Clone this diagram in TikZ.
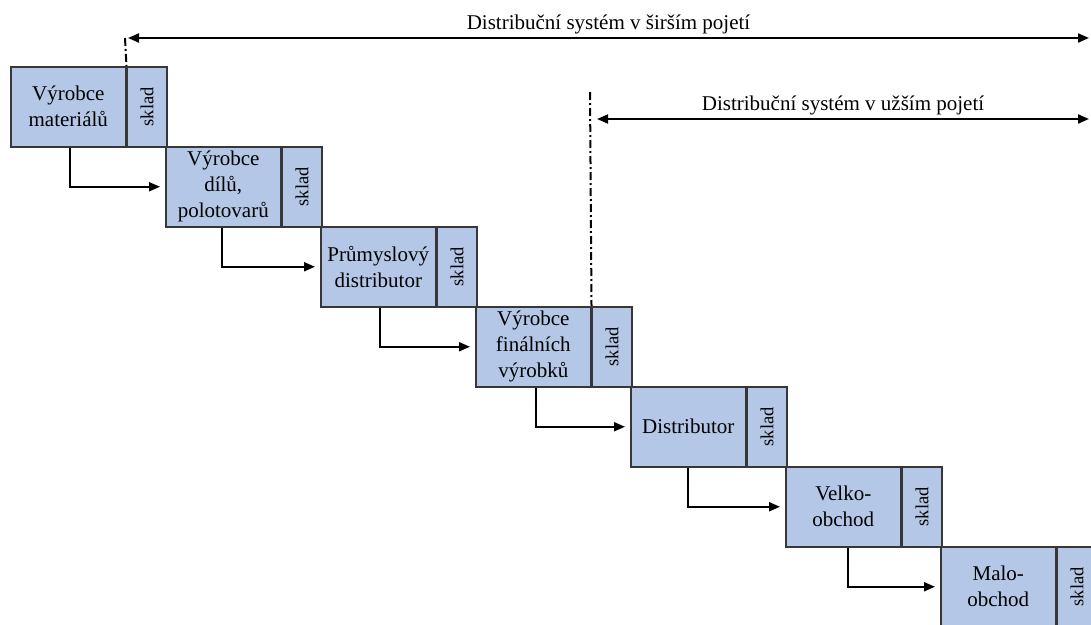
\documentclass[tikz,border=0pt]{standalone}
\usepackage{fontspec}
\setmainfont{Liberation Serif}
\usetikzlibrary{arrows.meta}
\definecolor{boxfill}{RGB}{180,199,231}
\definecolor{boxline}{RGB}{55,55,55}
\begin{document}
\begin{tikzpicture}[x=1pt,y=-1pt,
  mainbox/.style={draw=boxline, fill=boxfill, line width=1.5pt, minimum width=115pt, minimum height=80pt,
    inner sep=0pt, align=center, anchor=north west, font=\fontsize{21}{26}\selectfont},
  skladbox/.style={draw=boxline, fill=boxfill, line width=1.5pt, minimum width=39.5pt, minimum height=80pt,
    inner sep=0pt, anchor=north west, font=\fontsize{18.5}{20}\selectfont},
  flow/.style={line width=2pt, -{Triangle[length=11pt,width=9pt]}, shorten >=5pt},
  span/.style={line width=2pt, {Triangle[length=11pt,width=9pt]}-{Triangle[length=11pt,width=9pt]}},
  dd/.style={line width=2pt, dash pattern=on 8pt off 3pt on 2pt off 3pt},
  lbl/.style={font=\fontsize{21}{24}\selectfont, inner sep=3pt}
]
\useasboundingbox (0,0) rectangle (1091,624);
\clip (0,0) rectangle (1091,624);
\fill[white] (0,0) rectangle (1091,624);

\node[mainbox] (m1) at (10,66) {Výrobce\\materiálů};
\node[skladbox] (s1) at (m1.north east) {\rotatebox{90}{sklad}};
\node[mainbox] (m2) at (165,146) {Výrobce\\dílů,\\polotovarů};
\node[skladbox] (s2) at (m2.north east) {\rotatebox{90}{sklad}};
\node[mainbox] (m3) at (320,226) {Průmyslový\\distributor};
\node[skladbox] (s3) at (m3.north east) {\rotatebox{90}{sklad}};
\node[mainbox] (m4) at (475,306) {Výrobce\\finálních\\výrobků};
\node[skladbox] (s4) at (m4.north east) {\rotatebox{90}{sklad}};
\node[mainbox] (m5) at (630,386) {Distributor};
\node[skladbox] (s5) at (m5.north east) {\rotatebox{90}{sklad}};
\node[mainbox] (m6) at (785,466) {Velko-\\obchod};
\node[skladbox] (s6) at (m6.north east) {\rotatebox{90}{sklad}};
\node[mainbox] (m7) at (940,546) {Malo-\\obchod};
\node[skladbox] (s7) at (m7.north east) {\rotatebox{90}{sklad}};

\draw[flow] ([xshift=60pt]m1.south west) |- (m2.west);
\draw[flow] ([xshift=57pt]m2.south west) |- (m3.west);
\draw[flow] ([xshift=60pt]m3.south west) |- (m4.west);
\draw[flow] ([xshift=61pt]m4.south west) |- (m5.west);
\draw[flow] ([xshift=58pt]m5.south west) |- (m6.west);
\draw[flow] ([xshift=63pt]m6.south west) |- (m7.west);

\coordinate (t1) at (125,38);
\coordinate (a1) at (128,38);
\coordinate (e1) at (1089,38);
\draw[dd] (t1) -- (m1.north east);
\draw[span] (a1) -- (e1) node[midway, above, lbl] {Distribuční systém v širším pojetí};

\coordinate (t2) at (590,92);
\coordinate (a2) at (597,119);
\coordinate (e2) at (1089,119);
\draw[dd] (t2) -- (m4.north east);
\draw[span] (a2) -- (e2) node[midway, above, lbl] {Distribuční systém v užším pojetí};
\end{tikzpicture}
\end{document}
